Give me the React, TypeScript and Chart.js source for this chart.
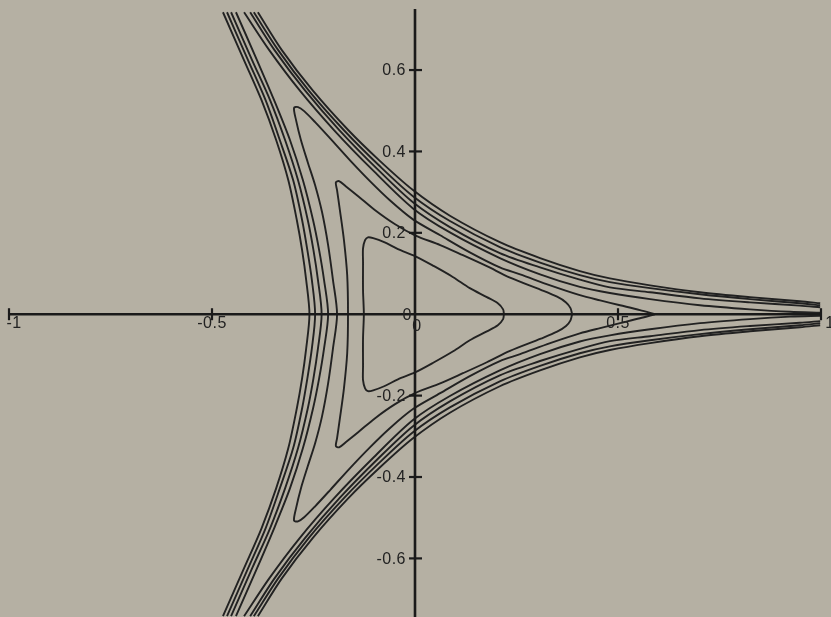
import { useEffect, useRef } from "react";
import { Chart, registerables } from "chart.js";

Chart.register(...registerables);

type Pt = [number, number];

// Closed level curves: upper half, from the right-hand tip to the crossing on the negative x axis.
const level1Upper: Pt[] = [
  [0.219, 0], [0.217, 0.012], [0.204, 0.027], [0.177, 0.042], [0.135, 0.064], [0.094, 0.091],
  [0.047, 0.118], [0.0, 0.143], [-0.042, 0.16], [-0.076, 0.177], [-0.103, 0.187], [-0.116, 0.189],
  [-0.123, 0.182], [-0.128, 0.162], [-0.128, 0.128], [-0.128, 0.059], [-0.126, 0],
];
const level2Upper: Pt[] = [
  [0.387, 0], [0.383, 0.015], [0.372, 0.029], [0.35, 0.043], [0.31, 0.06], [0.234, 0.09],
  [0.177, 0.118], [0.118, 0.145], [0.062, 0.17], [0.0, 0.194], [-0.049, 0.221], [-0.099, 0.256],
  [-0.14, 0.29], [-0.17, 0.314], [-0.187, 0.327], [-0.195, 0.324], [-0.192, 0.305], [-0.185, 0.256],
  [-0.175, 0.182], [-0.167, 0.096], [-0.165, 0],
];
const level3Upper: Pt[] = [
  [0.591, 0], [0.554, 0.01], [0.505, 0.022], [0.456, 0.034], [0.406, 0.047], [0.333, 0.071],
  [0.259, 0.098], [0.209, 0.115], [0.135, 0.152], [0.062, 0.194], [-0.005, 0.233], [-0.062, 0.28],
  [-0.111, 0.327], [-0.16, 0.378], [-0.209, 0.432], [-0.246, 0.472], [-0.273, 0.499], [-0.288, 0.509],
  [-0.298, 0.507], [-0.293, 0.477], [-0.281, 0.428], [-0.264, 0.373], [-0.246, 0.317], [-0.229, 0.251],
  [-0.214, 0.17], [-0.202, 0.084], [-0.192, 0],
];

// Open level curves: branch running from the right horn up to the upper-left horn.
const level4Upper: Pt[] = [
  [0.998, 0.004], [0.924, 0.006], [0.825, 0.012], [0.702, 0.022], [0.579, 0.037], [0.48, 0.052],
  [0.406, 0.067], [0.308, 0.098], [0.209, 0.138], [0.086, 0.201], [-0.005, 0.26], [-0.104, 0.354],
  [-0.199, 0.452], [-0.284, 0.55], [-0.359, 0.649], [-0.421, 0.742],
];
const level5Upper: Pt[] = [
  [0.998, 0.017], [0.948, 0.021], [0.825, 0.029], [0.702, 0.039], [0.579, 0.054], [0.48, 0.066],
  [0.406, 0.085], [0.308, 0.115], [0.209, 0.15], [0.086, 0.214], [-0.005, 0.275], [-0.09, 0.354],
  [-0.186, 0.452], [-0.271, 0.55], [-0.346, 0.649], [-0.406, 0.742],
];
const level6Upper: Pt[] = [
  [0.998, 0.022], [0.948, 0.027], [0.825, 0.037], [0.702, 0.049], [0.579, 0.064], [0.48, 0.079],
  [0.406, 0.096], [0.308, 0.127], [0.209, 0.165], [0.086, 0.229], [-0.005, 0.29], [-0.089, 0.366],
  [-0.175, 0.452], [-0.262, 0.55], [-0.337, 0.649], [-0.397, 0.742],
];
const level7Upper: Pt[] = [
  [0.998, 0.027], [0.948, 0.032], [0.825, 0.042], [0.702, 0.054], [0.579, 0.071], [0.48, 0.088],
  [0.406, 0.106], [0.308, 0.138], [0.209, 0.177], [0.086, 0.242], [-0.005, 0.305], [-0.088, 0.378],
  [-0.164, 0.452], [-0.252, 0.55], [-0.328, 0.649], [-0.387, 0.742],
];

// Open level curves: outer left branch, upper half from the top down to the x axis.
const level4Left: Pt[] = [
  [-0.441, 0.742], [-0.389, 0.624], [-0.347, 0.526], [-0.308, 0.428], [-0.276, 0.329],
  [-0.251, 0.231], [-0.236, 0.157], [-0.224, 0.084], [-0.214, 0],
];
const level5Left: Pt[] = [
  [-0.453, 0.742], [-0.401, 0.624], [-0.357, 0.526], [-0.32, 0.428], [-0.288, 0.329],
  [-0.264, 0.231], [-0.25, 0.157], [-0.239, 0.084], [-0.23, 0],
];
const level6Left: Pt[] = [
  [-0.463, 0.742], [-0.411, 0.624], [-0.368, 0.526], [-0.333, 0.428], [-0.3, 0.329],
  [-0.278, 0.231], [-0.265, 0.157], [-0.254, 0.084], [-0.246, 0],
];
const level7Left: Pt[] = [
  [-0.473, 0.742], [-0.421, 0.624], [-0.378, 0.526], [-0.342, 0.428], [-0.312, 0.329],
  [-0.291, 0.231], [-0.278, 0.157], [-0.268, 0.084], [-0.26, 0],
];

const xTicks = [-1, -0.5, 0.5, 1];
const xTickLabels = ["-1", "-0.5", "0.5", "1"];
const yTicks = [-0.6, -0.4, -0.2, 0.2, 0.4, 0.6];
const yTickLabels = ["-0.6", "-0.4", "-0.2", "0.2", "0.4", "0.6"];

const X_MIN = -1;
const X_MAX = 1;
const Y_MIN = -0.744;
const Y_MAX = 0.75;

const PAPER = "#b5b0a3";
const INK = "#222222";
const AXIS_INK = "#1a1a1a";

// every curve is symmetric about the x axis
const mirror = (pts: Pt[]): Pt[] => pts.map(([x, y]) => [x, -y] as Pt);
const joinWithMirror = (upper: Pt[]): Pt[] => [...upper, ...mirror(upper).reverse().slice(1)];

const toXY = (pts: Pt[]) => pts.map(([x, y]) => ({ x, y }));

function buildPaths(): Pt[][] {
  const paths: Pt[][] = [];
  [level1Upper, level2Upper, level3Upper].forEach((u) => paths.push(joinWithMirror(u)));
  const openUpper = [level4Upper, level5Upper, level6Upper, level7Upper];
  const openLeft = [level4Left, level5Left, level6Left, level7Left];
  openUpper.forEach((u, i) => {
    paths.push(u);
    paths.push(mirror(u));
    paths.push(joinWithMirror(openLeft[i]));
  });
  return paths;
}

// small nudges for the end labels of the horizontal axis
const xLabelNudge: Record<string, number> = { "-1": 5, "1": 9 };

const crossAxes = {
  id: "crossAxes",
  beforeDraw(chart: any) {
    const { ctx, width, height } = chart;
    ctx.save();
    ctx.fillStyle = PAPER;
    ctx.fillRect(0, 0, width, height);
    ctx.restore();
  },
  afterDatasetsDraw(chart: any) {
    const { ctx } = chart;
    const xs = chart.scales.x;
    const ys = chart.scales.y;
    const x0 = xs.getPixelForValue(0);
    const y0 = ys.getPixelForValue(0);
    ctx.save();
    ctx.strokeStyle = AXIS_INK;
    ctx.lineCap = "butt";

    ctx.lineWidth = 2.6;
    ctx.beginPath();
    ctx.moveTo(xs.getPixelForValue(X_MIN), y0);
    ctx.lineTo(xs.getPixelForValue(X_MAX), y0);
    ctx.stroke();
    ctx.beginPath();
    ctx.moveTo(x0, ys.getPixelForValue(Y_MAX));
    ctx.lineTo(x0, chart.height);
    ctx.stroke();

    ctx.lineWidth = 2.2;
    xTicks.forEach((v) => {
      const px = xs.getPixelForValue(v);
      ctx.beginPath();
      ctx.moveTo(px, y0 - 6);
      ctx.lineTo(px, y0 + 6);
      ctx.stroke();
    });
    yTicks.forEach((v) => {
      const py = ys.getPixelForValue(v);
      ctx.beginPath();
      ctx.moveTo(x0 - 6, py);
      ctx.lineTo(x0 + 7, py);
      ctx.stroke();
    });

    ctx.fillStyle = "#222222";
    ctx.font = '16px "Liberation Sans", Arial, sans-serif';
    try {
      (ctx as any).letterSpacing = "0.5px";
    } catch (e) {
      /* older canvas */
    }
    ctx.textBaseline = "middle";

    ctx.textAlign = "center";
    xTicks.forEach((v, i) => {
      const label = xTickLabels[i];
      const nudge = xLabelNudge[label] || 0;
      ctx.fillText(label, xs.getPixelForValue(v) + nudge, y0 + 9);
    });
    ctx.fillText("0", x0 + 2, y0 + 12);

    ctx.textAlign = "right";
    yTicks.forEach((v, i) => {
      ctx.fillText(yTickLabels[i], x0 - 9, ys.getPixelForValue(v) + 1);
    });
    ctx.fillText("0", x0 - 3, y0 + 1);
    ctx.restore();
  },
};

export default function App() {
  const canvasRef = useRef<HTMLCanvasElement | null>(null);

  useEffect(() => {
    const canvas = canvasRef.current;
    if (!canvas) return;
    const datasets = buildPaths().map((p) => ({
      data: toXY(p),
      showLine: true,
      borderColor: INK,
      borderWidth: 1.9,
      pointRadius: 0,
      pointHoverRadius: 0,
      tension: 0.3,
      fill: false,
    }));
    const chart = new Chart(canvas, {
      type: "scatter",
      data: { datasets },
      options: {
        animation: false,
        responsive: false,
        maintainAspectRatio: false,
        devicePixelRatio: 1,
        layout: { padding: { left: 9, right: 10, top: 9, bottom: 0 } },
        scales: {
          x: { type: "linear", min: X_MIN, max: X_MAX, display: false },
          y: { type: "linear", min: Y_MIN, max: Y_MAX, display: false },
        },
        plugins: {
          legend: { display: false },
          tooltip: { enabled: false },
        },
        events: [],
      },
      plugins: [crossAxes],
    });
    return () => chart.destroy();
  }, []);

  return (
    <div style={{ position: "fixed", left: 0, top: 0, width: 831, height: 617, background: PAPER }}>
      <canvas ref={canvasRef} width={831} height={617} style={{ display: "block" }} />
    </div>
  );
}
